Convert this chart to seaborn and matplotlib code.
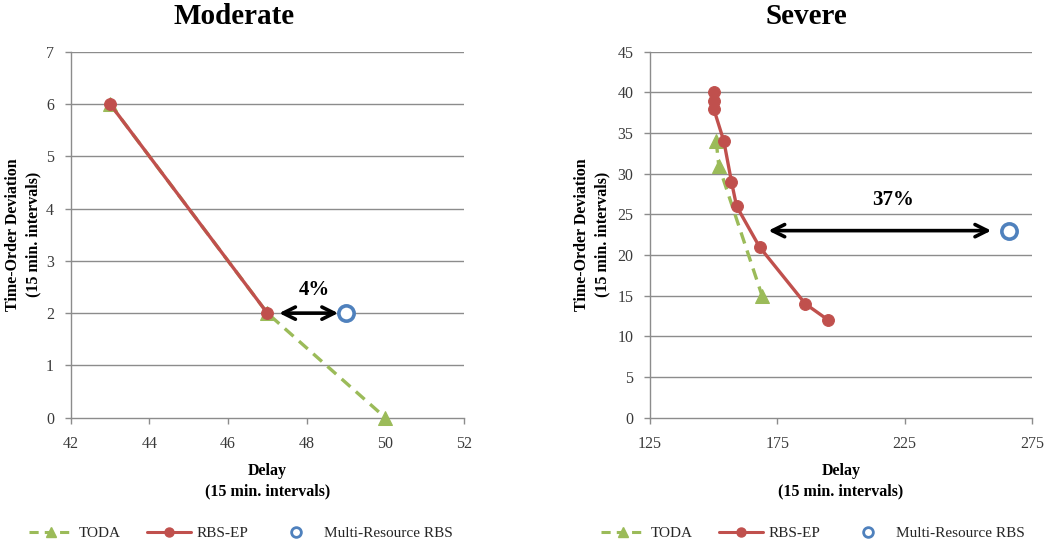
import matplotlib
matplotlib.use("Agg")
import matplotlib.pyplot as plt
from matplotlib.lines import Line2D
import seaborn as sns

# ---- data ----
# Moderate scenario
mod_toda_delay = [43, 47, 50]
mod_toda_dev = [6, 2, 0]
mod_rbs_delay = [43, 47]
mod_rbs_dev = [6, 2]
mod_multi_delay = [49]
mod_multi_dev = [2]
mod_gain_label = "4%"

# Severe scenario
sev_toda_delay = [151, 152, 169]
sev_toda_dev = [34, 31, 15]
sev_rbs_delay = [150, 150, 150, 154, 157, 159, 168, 186, 195]
sev_rbs_dev = [40, 39, 38, 34, 29, 26, 21, 14, 12]
sev_multi_delay = [266]
sev_multi_dev = [23]
sev_gain_label = "37%"

mod_xticks = [42, 44, 46, 48, 50, 52]
mod_yticks = [0, 1, 2, 3, 4, 5, 6, 7]
sev_xticks = [125, 175, 225, 275]
sev_yticks = [0, 5, 10, 15, 20, 25, 30, 35, 40, 45]

series_names = ["TODA", "RBS-EP", "Multi-Resource RBS"]

# ---- style ----
sns.set_theme(style="white")
plt.rcParams["font.family"] = ["Liberation Serif", "DejaVu Serif"]

GREEN = "#9BBB59"
RED = "#C0504D"
BLUE = "#4F81BD"
GRID = "#8C8C8C"
TXT = "#3a3a3a"

W, H = 1045, 542
fig = plt.figure(figsize=(W / 100, H / 100), dpi=100)


def px_axes(left, right, top, bottom):
    return fig.add_axes([left / W, 1 - bottom / H, (right - left) / W, (bottom - top) / H])


def draw_panel(ax, title, title_x_px, toda_x, toda_y, rbs_x, rbs_y, multi_x, multi_y,
               xticks, yticks, arrow_from, arrow_to, arrow_y, gain, gain_xy,
               ylabel_x_px, legend_x_px):
    sns.lineplot(x=toda_x, y=toda_y, ax=ax, estimator=None, sort=False, color=GREEN,
                 linestyle=(0, (3.5, 2.2)), linewidth=2.4, marker="^", markersize=9.5,
                 markeredgecolor=GREEN, markerfacecolor=GREEN, zorder=3, clip_on=False)
    sns.lineplot(x=rbs_x, y=rbs_y, ax=ax, estimator=None, sort=False, color=RED,
                 linewidth=2.4, marker="o", markersize=8.5, markeredgecolor=RED,
                 markerfacecolor=RED, zorder=4, clip_on=False)
    sns.lineplot(x=multi_x, y=multi_y, ax=ax, estimator=None, sort=False, color=BLUE,
                 linestyle="none", marker="o", markersize=11, markeredgewidth=2.6,
                 markeredgecolor=BLUE, markerfacecolor="white", zorder=5, clip_on=False)

    ax.set_xlim(xticks[0], xticks[-1])
    ax.set_ylim(yticks[0], yticks[-1])
    ax.set_xticks(xticks)
    ax.set_yticks(yticks)
    ax.set_xlabel("")
    ax.set_ylabel("")

    ax.grid(False)
    for y in yticks[1:]:
        ax.axhline(y, color=GRID, linewidth=1.0, zorder=1)
    for side in ["top", "right"]:
        ax.spines[side].set_visible(False)
    for side in ["left", "bottom"]:
        ax.spines[side].set_color(GRID)
        ax.spines[side].set_linewidth(1.0)
        ax.spines[side].set_zorder(1)
    ax.tick_params(axis="both", direction="out", length=4, width=1.0, color=GRID,
                   labelsize=11.5, labelcolor=TXT)
    ax.tick_params(axis="y", pad=8)
    ax.tick_params(axis="x", pad=9)
    ax.tick_params(axis="both", which="both", left=True, bottom=True)

    # improvement arrow and label
    ax.annotate("", xy=(arrow_to, arrow_y), xytext=(arrow_from, arrow_y),
                arrowprops=dict(arrowstyle="<->", color="black", lw=2.6,
                                mutation_scale=22, shrinkA=0, shrinkB=0), zorder=6)
    ax.text(gain_xy[0], gain_xy[1], gain, ha="center", va="center",
            fontsize=15, fontweight="bold", color="black", zorder=6)

    # title
    fig.text(title_x_px / W, 1 - 17 / H, title, ha="center", va="center",
             fontsize=21, fontweight="bold", color="black")
    # axis labels
    ax_box = ax.get_position()
    fig.text((ax_box.x0 + ax_box.x1) / 2, 1 - 481 / H, "Delay\n(15 min. intervals)",
             ha="center", va="center", fontsize=11.5, fontweight="bold",
             color="black", linespacing=1.35)
    fig.text(ylabel_x_px / W, (ax_box.y0 + ax_box.y1) / 2,
             "Time-Order Deviation\n(15 min. intervals)", ha="center", va="center",
             rotation=90, fontsize=11.5, fontweight="bold", color="black",
             linespacing=1.35)

    # legend under the panel
    handles = [
        Line2D([], [], color=GREEN, linestyle=(0, (3, 2)), linewidth=2.2, marker="^",
               markersize=7, markeredgecolor=GREEN),
        Line2D([], [], color=RED, linewidth=2.2, marker="o", markersize=6.5,
               markeredgecolor=RED),
        Line2D([], [], color=BLUE, linestyle="none", marker="o", markersize=7,
               markeredgewidth=2, markerfacecolor="white", markeredgecolor=BLUE),
    ]
    fig.legend(handles, series_names, loc="center left",
               bbox_to_anchor=(legend_x_px / W, 1 - 533 / H), ncol=3, frameon=False,
               fontsize=11, handlelength=2.9, handletextpad=0.35, columnspacing=1.7,
               borderaxespad=0, borderpad=0)


ax1 = px_axes(70.7, 464, 51.7, 417.7)
draw_panel(ax1, "Moderate", 234, mod_toda_delay, mod_toda_dev, mod_rbs_delay, mod_rbs_dev,
           mod_multi_delay, mod_multi_dev, mod_xticks, mod_yticks,
           47.3, 48.8, 2, mod_gain_label, (48.2, 2.45), 23, 29)

ax2 = px_axes(650, 1032, 51.7, 417.7)
draw_panel(ax2, "Severe", 806, sev_toda_delay, sev_toda_dev, sev_rbs_delay, sev_rbs_dev,
           sev_multi_delay, sev_multi_dev, sev_xticks, sev_yticks,
           171.5, 259, 23, sev_gain_label, (220.5, 26.8), 592, 601)

fig.savefig("out.png", dpi=100)
